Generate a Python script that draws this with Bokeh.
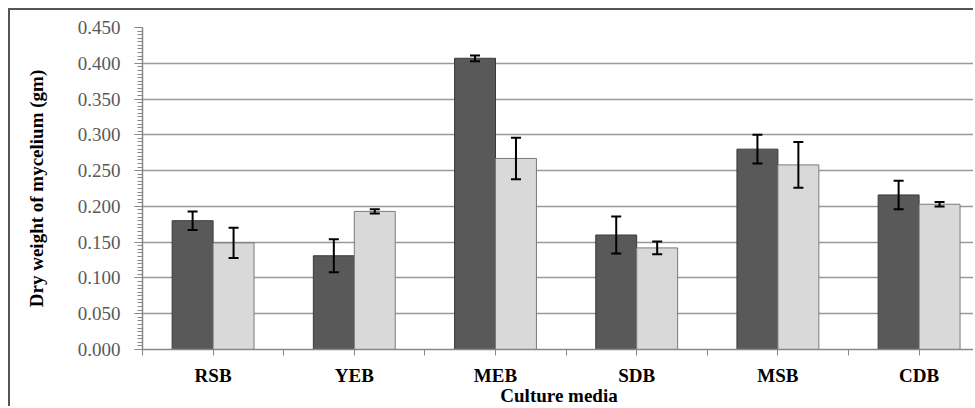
import numpy as np
from bokeh.plotting import figure
from bokeh.models import ColumnDataSource, Range1d, FixedTicker, Whisker, TeeHead
from bokeh.embed import file_html
from bokeh.resources import INLINE

categories = ["RSB", "YEB", "MEB", "SDB", "MSB", "CDB"]
series1 = [0.180, 0.131, 0.407, 0.160, 0.280, 0.216]
series1_err = [0.013, 0.023, 0.004, 0.026, 0.020, 0.020]
series2 = [0.149, 0.193, 0.267, 0.142, 0.258, 0.203]
series2_err = [0.021, 0.003, 0.029, 0.009, 0.032, 0.003]
y_ticks = [0.0, 0.05, 0.10, 0.15, 0.20, 0.25, 0.30, 0.35, 0.40, 0.45]

n = len(categories)
idx = np.arange(n)
bw = 0.29
x1 = idx + 0.5 - bw / 2
x2 = idx + 0.5 + bw / 2

s1 = ColumnDataSource(dict(x=x1, top=series1, up=np.array(series1) + np.array(series1_err),
                           lo=np.array(series1) - np.array(series1_err)))
s2 = ColumnDataSource(dict(x=x2, top=series2, up=np.array(series2) + np.array(series2_err),
                           lo=np.array(series2) - np.array(series2_err)))

p = figure(width=965, height=398, output_backend="svg", toolbar_location=None,
           x_range=Range1d(0, 833 / 141.2), y_range=Range1d(0, 0.45),
           min_border_left=132, min_border_top=17, min_border_bottom=58, min_border_right=0)
p.styles = {"border-left": "2px solid #555555", "border-top": "2px solid #555555",
            "margin-left": "8px", "margin-top": "8px"}
p.outline_line_color = None
p.background_fill_color = "white"

p.vbar(x="x", top="top", width=bw, source=s1, fill_color="#595959", line_color="#3a3a3a", line_width=1)
p.vbar(x="x", top="top", width=bw, source=s2, fill_color="#d9d9d9", line_color="#7a7a7a", line_width=1)

for s in (s1, s2):
    w = Whisker(base="x", upper="up", lower="lo", source=s, line_color="black", line_width=2,
                upper_head=TeeHead(size=10, line_width=2, line_color="black"),
                lower_head=TeeHead(size=10, line_width=2, line_color="black"))
    w.level = "overlay"
    p.add_layout(w)

# x axis
xt = [i * 0.5 for i in range(0, 2 * n + 1)]
p.xaxis.ticker = FixedTicker(ticks=xt)
p.xaxis.major_label_overrides = {float(t): (categories[int(t)] if abs((t % 1) - 0.5) < 1e-9 else " ") for t in xt}
p.xaxis.major_tick_out = 6
p.xaxis.major_tick_in = 0
p.xaxis.minor_tick_line_color = None
p.xaxis.axis_line_color = "#888888"
p.xaxis.axis_line_width = 1.5
p.xaxis.major_tick_line_color = "#888888"
p.xaxis.major_label_text_font = "Liberation Serif"
p.xaxis.major_label_text_font_style = "bold"
p.xaxis.major_label_text_font_size = "19px"
p.xaxis.major_label_text_color = "black"
p.xaxis.major_label_standoff = 9
p.xaxis.axis_label = "Culture media"
p.xaxis.axis_label_text_font = "Liberation Serif"
p.xaxis.axis_label_text_font_style = "bold"
p.xaxis.axis_label_text_font_size = "19px"
p.xaxis.axis_label_text_color = "black"
p.xaxis.axis_label_standoff = -4

# y axis
p.yaxis.ticker = FixedTicker(ticks=y_ticks, minor_ticks=[i * 0.005 for i in range(91)])
p.yaxis.major_label_overrides = {t: f"{t:.3f}" for t in y_ticks}
p.yaxis.major_tick_out = 8
p.yaxis.major_tick_in = 0
p.yaxis.minor_tick_out = 5
p.yaxis.minor_tick_in = 0
p.yaxis.axis_line_color = "#888888"
p.yaxis.axis_line_width = 1.5
p.yaxis.major_tick_line_color = "#888888"
p.yaxis.minor_tick_line_color = "#888888"
p.yaxis.major_label_text_font = "Liberation Serif"
p.yaxis.major_label_text_font_size = "19px"
p.yaxis.major_label_text_color = "#5a5a5a"
p.yaxis.major_label_standoff = 14
p.yaxis.axis_label = "Dry weight of mycelium (gm)"
p.yaxis.axis_label_text_font = "Liberation Serif"
p.yaxis.axis_label_text_font_style = "bold"
p.yaxis.axis_label_text_font_size = "19px"
p.yaxis.axis_label_text_color = "black"
p.yaxis.axis_label_standoff = 28

p.xgrid.grid_line_color = None
p.ygrid.ticker = FixedTicker(ticks=y_ticks)
p.ygrid.grid_line_color = "#999999"
p.ygrid.grid_line_width = 1.5

open("out.html", "w").write(file_html(p, INLINE))
